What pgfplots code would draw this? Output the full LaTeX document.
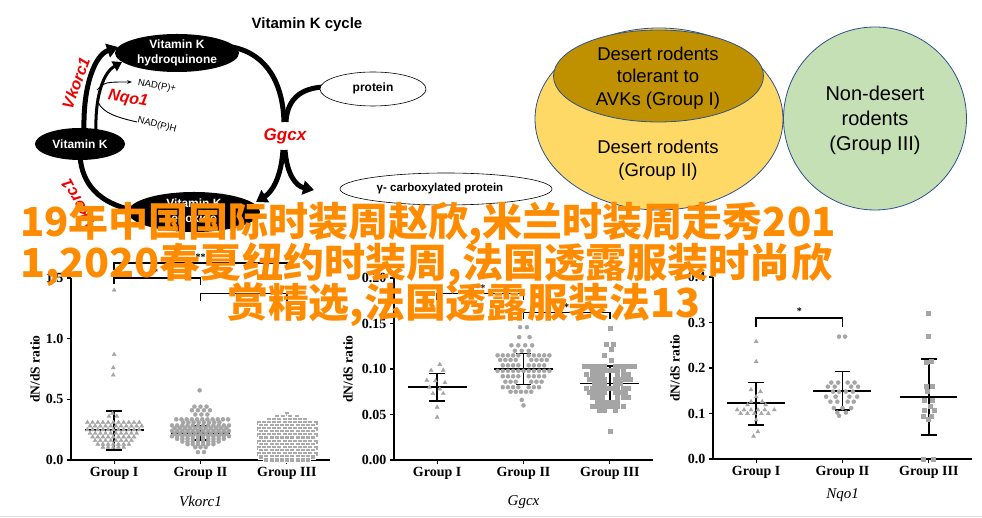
\documentclass[border=0pt]{standalone}
\usepackage{graphicx}
\usepackage{pgfplots}
\pgfplotsset{compat=1.18}
\usepackage{fontspec}
\setmainfont{Liberation Serif}
\newfontfamily\arial{Liberation Sans}
\newfontfamily\cjk{Noto Sans CJK SC}
\usetikzlibrary{arrows.meta}

\definecolor{orangetxt}{RGB}{255,140,0}
\definecolor{mk}{RGB}{165,165,165}
\definecolor{mkl}{RGB}{170,170,170}
\definecolor{vyellow}{RGB}{255,217,102}
\definecolor{vgold}{RGB}{191,144,0}
\definecolor{vgreen}{RGB}{197,224,180}
\definecolor{vline}{RGB}{47,82,143}
\definecolor{kred}{RGB}{238,0,0}

\newcommand\fs[2]{\fontsize{#1bp}{#2bp}\selectfont}

\pgfplotsset{
  dnds/.style={
    scale only axis, width=259bp, height=182bp,
    xmin=0.5, xmax=3.5, ymin=0,
    axis lines*=left,
    axis line style={black, line width=1.5bp},
    xtick={1,2,3}, xticklabels={Group I,Group II,Group III},
    tick align=outside, major tick length=4bp,
    every tick/.style={black, line width=1.2bp},
    tick label style={font=\bfseries\fs{14}{14}},
    /pgf/number format/assume math mode=true,
    ylabel={dN/dS ratio},
    ylabel style={font=\bfseries\fs{13.5}{14}, anchor=center},
    xlabel style={font=\itshape\fs{15}{15}, anchor=center},
    clip=false,
  },
  med/.style={black, line width=1.6bp, forget plot},
  tri/.style={only marks, mark=triangle*, mark size=2.3bp, color=mk},
  dot/.style={only marks, mark=*, mark size=2bp, color=mk},
  sqr/.style={only marks, mark=square*, mark size=2bp, color=mk},
}

\begin{document}
\begin{tikzpicture}
\fill[white] (0bp,0bp) rectangle (982bp,518bp);
\path[use as bounding box] (0bp,0bp) rectangle (982bp,518bp);
\draw[black!12, line width=0.8bp] (0bp,1.5bp) -- (982bp,1.5bp);

% ---- Vitamin K cycle diagram (pixel coordinates, y down)
\begin{scope}[shift={(0bp,518bp)}, x=1bp, y=-1bp]
  \draw[line width=5bp, -{Triangle[length=11bp,width=14bp]}] (84,130) .. controls (83,85) and (95,55) .. (118,47);
  \draw[line width=3bp, -{Triangle[length=9bp,width=11bp]}] (96,130) .. controls (95,95) and (104,72) .. (122,62);
  \draw[line width=0.9bp, -{Stealth[length=5bp]}] (97,90) .. controls (105,82) .. (132,82);
  \draw[line width=0.9bp] (137,122) .. controls (110,116) and (99,110) .. (97,98);
  \draw[line width=5bp] (232,47) .. controls (268,54) and (283,85) .. (284,122);
  \draw[line width=5bp] (324,87) .. controls (300,88) and (287,100) .. (286,122);
  \draw[line width=5bp, -{Triangle[length=11bp,width=14bp]}] (285,150) .. controls (287,175) and (296,186) .. (314,190);
  \draw[line width=5bp, -{Triangle[length=11bp,width=14bp]}] (283,150) .. controls (281,178) and (272,192) .. (256,202);
  \draw[line width=5bp] (80,156) .. controls (82,185) and (100,203) .. (132,210);

  \fill[black] (177,53) ellipse (62 and 19);
  \node[text=white, font=\arial\bfseries\fs{12}{15}, align=center] at (177,53) {Vitamin K\\hydroquinone};
  \fill[black] (80,144) ellipse (45 and 16);
  \node[text=white, font=\arial\bfseries\fs{12}{15}] at (80,144) {Vitamin K};
  \fill[black] (194,212) ellipse (66 and 20);
  \node[text=white, font=\arial\bfseries\fs{12}{15}, align=center] at (194,212) {Vitamin K\\epoxide};
  \draw[line width=0.6bp, fill=white] (373,89) ellipse (53 and 17);
  \node[font=\arial\bfseries\fs{12}{14}] at (373,88) {protein};
  \draw[line width=0.6bp, fill=white] (446,189) ellipse (106 and 16);
  \node[font=\arial\bfseries\fs{11.5}{14}] at (440,189) {γ- carboxylated protein};

  \node[font=\arial\bfseries\fs{15}{15}] at (307,25) {Vitamin K cycle};
  \node[text=kred, font=\arial\bfseries\itshape\fs{16}{16}, rotate=70] at (76,83) {Vkorc1};
  \node[text=kred, font=\arial\bfseries\itshape\fs{16}{16}, rotate=-10] at (128,99) {Nqo1};
  \node[text=kred, font=\arial\bfseries\itshape\fs{17}{17}] at (285,136) {Ggcx};
  \node[text=kred, font=\arial\bfseries\itshape\fs{16}{16}, rotate=119] at (78,204) {Vkorc1};
  \node[font=\arial\fs{9.5}{10}, rotate=-10] at (157,86) {NAD(P)+};
  \node[font=\arial\fs{9.5}{10}, rotate=-15] at (157,125) {NAD(P)H};

  % ---- groups diagram
  \draw[vline, line width=0.8bp, fill=vyellow] (659,119) ellipse (124 and 91);
  \draw[vline, line width=0.8bp, fill=vgold] (658.5,76) ellipse (105 and 46);
  \draw[vline, line width=0.8bp, fill=vgreen] (875,118.5) circle (91.5);
  \node[font=\arial\fs{18.5}{22.5}, align=center] at (658,78) {Desert rodents\\tolerant to\\AVKs (Group I)};
  \node[font=\arial\fs{18.5}{23.5}, align=center] at (658,160) {Desert rodents\\(Group II)};
  \node[font=\arial\fs{20}{25}, align=center] at (875,120) {Non-desert\\rodents\\(Group III)};
\end{scope}

% ---- Vkorc1
\begin{axis}[dnds, at={(71bp,58bp)}, anchor=south west,
  ymax=1.5, ytick={0,0.5,1,1.5},
  yticklabel style={/pgf/number format/.cd, fixed, fixed zerofill, precision=1},
  ylabel style={at={(axis description cs:-0.139,0.5)}},
  xlabel={Vkorc1}, xlabel style={at={(axis description cs:0.5,-0.23)}}]
\addplot[tri] coordinates {
 (1.0,1.40) (1.0,0.87) (0.99,0.76) (0.99,0.70) (0.98,0.385) (0.94,0.36) (1.03,0.36)
 (0.69,0.31) (0.75,0.31) (0.81,0.31) (0.87,0.31) (0.93,0.31) (0.99,0.31) (1.05,0.31) (1.11,0.31) (1.17,0.31) (1.23,0.31) (1.29,0.31)
 (0.72,0.28) (0.78,0.28) (0.84,0.28) (0.90,0.28) (0.96,0.28) (1.02,0.28) (1.08,0.28) (1.14,0.28) (1.20,0.28) (1.26,0.28) (1.32,0.28)
 (0.69,0.25) (0.75,0.25) (0.81,0.25) (0.87,0.25) (0.93,0.25) (0.99,0.25) (1.05,0.25) (1.11,0.25) (1.17,0.25) (1.23,0.25) (1.29,0.25)
 (0.72,0.22) (0.78,0.22) (0.84,0.22) (0.90,0.22) (0.96,0.22) (1.02,0.22) (1.08,0.22) (1.14,0.22) (1.20,0.22) (1.26,0.22)
 (0.75,0.19) (0.81,0.19) (0.87,0.19) (0.93,0.19) (0.99,0.19) (1.05,0.19) (1.11,0.19) (1.17,0.19) (1.23,0.19)
 (0.78,0.16) (0.84,0.16) (0.90,0.16) (0.96,0.16) (1.02,0.16) (1.08,0.16) (1.14,0.16) (1.20,0.16)
 (0.81,0.13) (0.87,0.13) (0.93,0.13) (0.99,0.13) (1.05,0.13) (1.11,0.13) (1.17,0.13)
 (0.87,0.105) (0.93,0.105) (0.99,0.105) (1.05,0.105) (1.11,0.105)
};
\addplot[dot] coordinates {
 (1.99,0.574) (1.93,0.44) (2.00,0.44) (2.07,0.44) (1.90,0.41) (1.97,0.41) (2.04,0.41) (2.11,0.41)
 (1.94,0.375) (2.01,0.375) (2.08,0.375)
 (1.72,0.335) (1.78,0.335) (1.84,0.335) (1.90,0.335) (1.96,0.335) (2.02,0.335) (2.08,0.335) (2.14,0.335) (2.20,0.335) (2.26,0.335) (2.32,0.335)
 (1.80,0.31) (1.86,0.31) (1.92,0.31) (1.98,0.31) (2.04,0.31) (2.10,0.31) (2.16,0.31) (2.22,0.31)
 (1.67,0.285) (1.73,0.285) (1.79,0.285) (1.85,0.285) (1.91,0.285) (1.97,0.285) (2.03,0.285) (2.09,0.285) (2.15,0.285) (2.21,0.285) (2.27,0.285) (2.33,0.285)
 (1.70,0.262) (1.76,0.262) (1.82,0.262) (1.88,0.262) (1.94,0.262) (2.00,0.262) (2.06,0.262) (2.12,0.262) (2.18,0.262) (2.24,0.262) (2.30,0.262)
 (1.67,0.24) (1.73,0.24) (1.79,0.24) (1.85,0.24) (1.91,0.24) (1.97,0.24) (2.03,0.24) (2.09,0.24) (2.15,0.24) (2.21,0.24) (2.27,0.24) (2.33,0.24)
 (1.70,0.218) (1.76,0.218) (1.82,0.218) (1.88,0.218) (1.94,0.218) (2.00,0.218) (2.06,0.218) (2.12,0.218) (2.18,0.218) (2.24,0.218) (2.30,0.218)
 (1.67,0.196) (1.73,0.196) (1.79,0.196) (1.85,0.196) (1.91,0.196) (1.97,0.196) (2.03,0.196) (2.09,0.196) (2.15,0.196) (2.21,0.196) (2.27,0.196) (2.33,0.196)
 (1.73,0.174) (1.79,0.174) (1.85,0.174) (1.91,0.174) (1.97,0.174) (2.03,0.174) (2.09,0.174) (2.15,0.174) (2.21,0.174) (2.27,0.174)
 (1.79,0.152) (1.85,0.152) (1.91,0.152) (1.97,0.152) (2.03,0.152) (2.09,0.152) (2.15,0.152) (2.21,0.152)
 (1.85,0.13) (1.91,0.13) (1.97,0.13) (2.03,0.13) (2.09,0.13) (2.15,0.13)
 (1.94,0.105) (2.00,0.105) (2.06,0.105) (1.97,0.065) (2.04,0.065)
};
\addplot[sqr, color=mkl, mark size=2.5bp, mark options={draw=white, line width=0.35bp}] coordinates {
 (3.00,0.385) (2.88,0.355) (2.95,0.355) (3.03,0.355) (3.11,0.355)
 (2.79,0.33) (2.85,0.33) (2.91,0.33) (2.97,0.33) (3.03,0.33) (3.09,0.33) (3.15,0.33) (3.21,0.33)
 (2.67,0.305) (2.73,0.305) (2.79,0.305) (2.85,0.305) (2.91,0.305) (2.97,0.305) (3.03,0.305) (3.09,0.305) (3.15,0.305) (3.21,0.305) (3.27,0.305) (3.33,0.305)
 (2.70,0.28) (2.76,0.28) (2.82,0.28) (2.88,0.28) (2.94,0.28) (3.00,0.28) (3.06,0.28) (3.12,0.28) (3.18,0.28) (3.24,0.28) (3.30,0.28)
 (2.67,0.255) (2.73,0.255) (2.79,0.255) (2.85,0.255) (2.91,0.255) (2.97,0.255) (3.03,0.255) (3.09,0.255) (3.15,0.255) (3.21,0.255) (3.27,0.255) (3.33,0.255)
 (2.70,0.23) (2.76,0.23) (2.82,0.23) (2.88,0.23) (2.94,0.23) (3.00,0.23) (3.06,0.23) (3.12,0.23) (3.18,0.23) (3.24,0.23) (3.30,0.23)
 (2.67,0.205) (2.73,0.205) (2.79,0.205) (2.85,0.205) (2.91,0.205) (2.97,0.205) (3.03,0.205) (3.09,0.205) (3.15,0.205) (3.21,0.205) (3.27,0.205) (3.33,0.205)
 (2.70,0.18) (2.76,0.18) (2.82,0.18) (2.88,0.18) (2.94,0.18) (3.00,0.18) (3.06,0.18) (3.12,0.18) (3.18,0.18) (3.24,0.18) (3.30,0.18)
 (2.67,0.155) (2.73,0.155) (2.79,0.155) (2.85,0.155) (2.91,0.155) (2.97,0.155) (3.03,0.155) (3.09,0.155) (3.15,0.155) (3.21,0.155) (3.27,0.155) (3.33,0.155)
 (2.70,0.13) (2.76,0.13) (2.82,0.13) (2.88,0.13) (2.94,0.13) (3.00,0.13) (3.06,0.13) (3.12,0.13) (3.18,0.13) (3.24,0.13) (3.30,0.13)
 (2.67,0.105) (2.73,0.105) (2.79,0.105) (2.85,0.105) (2.91,0.105) (2.97,0.105) (3.03,0.105) (3.09,0.105) (3.15,0.105) (3.21,0.105) (3.27,0.105) (3.33,0.105)
 (2.70,0.08) (2.76,0.08) (2.82,0.08) (2.88,0.08) (2.94,0.08) (3.00,0.08) (3.06,0.08) (3.12,0.08) (3.18,0.08) (3.24,0.08) (3.30,0.08)
 (2.67,0.055) (2.73,0.055) (2.79,0.055) (2.85,0.055) (2.91,0.055) (2.97,0.055) (3.03,0.055) (3.09,0.055) (3.15,0.055) (3.21,0.055) (3.27,0.055) (3.33,0.055)
 (2.70,0.03) (2.76,0.03) (2.82,0.03) (2.88,0.03) (2.94,0.03) (3.00,0.03) (3.06,0.03) (3.12,0.03) (3.18,0.03) (3.24,0.03) (3.30,0.03)
 (2.76,0.006) (2.82,0.006) (2.88,0.006) (2.94,0.006) (3.00,0.006) (3.06,0.006) (3.12,0.006) (3.18,0.006) (3.24,0.006)
};
% medians and error bars
\addplot[med] coordinates {(0.66,0.245) (1.34,0.245)};
\addplot[med] coordinates {(0.91,0.405) (1.09,0.405)};
\addplot[med] coordinates {(1,0.405) (1,0.082)};
\addplot[med] coordinates {(0.91,0.082) (1.09,0.082)};
\addplot[med] coordinates {(1.66,0.222) (2.34,0.222)};
\addplot[med] coordinates {(1.91,0.278) (2.09,0.278)};
\addplot[med] coordinates {(2,0.278) (2,0.165)};
\addplot[med] coordinates {(1.91,0.165) (2.09,0.165)};
\addplot[med] coordinates {(2.66,0.165) (3.34,0.165)};
\addplot[med] coordinates {(2.91,0.24) (3.09,0.24)};
\addplot[med] coordinates {(3,0.24) (3,0.095)};
\addplot[med] coordinates {(2.91,0.095) (3.09,0.095)};
% significance
\addplot[black, line width=1.4bp] coordinates {(1,1.57) (1,1.623) (3,1.623) (3,1.58)};
\addplot[black, line width=1.4bp] coordinates {(1,1.45) (1,1.50) (2,1.50) (2,1.44)};
\addplot[black, line width=1.4bp] coordinates {(2,1.31) (2,1.37) (3,1.37) (3,1.31)};
\node[font=\bfseries\fs{10}{10}] at (axis cs:2,1.67) {**};
\node[font=\bfseries\fs{10}{10}] at (axis cs:1.48,1.545) {*};
\node[font=\bfseries\fs{10}{10}] at (axis cs:2.43,1.415) {*};
\end{axis}

% ---- Ggcx
\begin{axis}[dnds, at={(394bp,58bp)}, anchor=south west,
  ymax=0.2, ytick={0,0.05,0.1,0.15,0.2},
  yticklabel style={/pgf/number format/.cd, fixed, fixed zerofill, precision=2},
  ylabel style={at={(axis description cs:-0.178,0.5)}},
  xlabel={Ggcx}, xlabel style={at={(axis description cs:0.5,-0.23)}}]
\addplot[tri] coordinates {
 (1.03,0.105) (0.93,0.0985) (1.07,0.0985) (0.88,0.0876) (0.98,0.087) (1.09,0.085)
 (0.91,0.080) (1.03,0.078) (0.95,0.073) (1.07,0.073) (1.00,0.058) (1.00,0.047)
};
\addplot[dot] coordinates {
 (1.96,0.146) (2.04,0.146) (1.95,0.135) (2.07,0.135)
 (1.86,0.126) (1.94,0.126) (2.02,0.126) (2.10,0.126) (1.90,0.12) (1.98,0.12) (2.06,0.12)
 (1.70,0.115) (1.76,0.115) (1.82,0.115) (1.88,0.115) (1.94,0.115) (2.06,0.115) (2.12,0.115) (2.18,0.115) (2.24,0.115) (2.30,0.115)
 (1.73,0.11) (1.79,0.11) (1.85,0.11) (1.91,0.11) (2.09,0.11) (2.15,0.11) (2.21,0.11) (2.27,0.11)
 (1.76,0.104) (1.82,0.104) (1.88,0.104) (1.94,0.104) (2.06,0.104) (2.12,0.104) (2.18,0.104) (2.24,0.104)
 (1.70,0.098) (1.76,0.098) (1.82,0.098) (1.88,0.098) (1.94,0.098) (2.00,0.098) (2.06,0.098) (2.12,0.098) (2.18,0.098) (2.24,0.098) (2.30,0.098)
 (1.76,0.092) (1.82,0.092) (1.88,0.092) (1.94,0.092) (2.06,0.092) (2.12,0.092) (2.18,0.092) (2.24,0.092)
 (1.79,0.086) (1.85,0.086) (1.91,0.086) (2.09,0.086) (2.15,0.086) (2.21,0.086)
 (1.76,0.08) (1.82,0.08) (1.88,0.08) (1.94,0.08) (2.06,0.08) (2.12,0.08) (2.18,0.08)
 (1.85,0.075) (1.91,0.075) (1.97,0.075) (2.03,0.075) (2.09,0.075)
 (1.98,0.066) (2.00,0.06)
};
\addplot[sqr] coordinates {
 (3.00,0.145) (2.96,0.127) (3.04,0.127) (3.02,0.122) (2.94,0.115) (3.01,0.11)
 (2.70,0.103) (2.76,0.103) (2.82,0.103) (2.88,0.103) (2.94,0.103) (3.06,0.103) (3.12,0.103) (3.18,0.103) (3.24,0.103) (3.28,0.103)
 (2.79,0.099) (2.85,0.099) (2.91,0.099) (2.97,0.099) (3.03,0.099) (3.09,0.099) (3.15,0.099)
 (2.73,0.094) (2.79,0.094) (2.85,0.094) (2.91,0.094) (3.09,0.094) (3.15,0.094) (3.21,0.094)
 (2.76,0.089) (2.82,0.089) (2.88,0.089) (2.94,0.089) (3.06,0.089) (3.12,0.089) (3.18,0.089) (3.24,0.089)
 (2.82,0.084) (2.88,0.084) (2.94,0.084) (3.06,0.084) (3.12,0.084)
 (2.73,0.079) (2.79,0.079) (2.85,0.079) (2.91,0.079) (2.97,0.079) (3.03,0.079) (3.09,0.079) (3.15,0.079) (3.21,0.079)
 (2.76,0.074) (2.82,0.074) (2.88,0.074) (2.94,0.074) (3.06,0.074) (3.12,0.074) (3.18,0.074)
 (2.79,0.069) (2.85,0.069) (2.91,0.069) (3.09,0.069) (3.15,0.069) (3.21,0.069)
 (2.85,0.064) (2.91,0.064) (2.97,0.064) (3.03,0.064) (3.09,0.064)
 (2.79,0.059) (2.85,0.059) (2.91,0.059) (2.97,0.059) (3.03,0.059) (3.09,0.059) (3.15,0.059)
 (2.88,0.055) (2.94,0.055) (3.06,0.055) (3.00,0.032)
};
\addplot[med] coordinates {(0.66,0.0805) (1.34,0.0805)};
\addplot[med] coordinates {(0.91,0.095) (1.09,0.095)};
\addplot[med] coordinates {(1,0.095) (1,0.065)};
\addplot[med] coordinates {(0.91,0.065) (1.09,0.065)};
\addplot[med] coordinates {(1.66,0.0998) (2.34,0.0998)};
\addplot[med] coordinates {(1.91,0.117) (2.09,0.117)};
\addplot[med] coordinates {(2,0.117) (2,0.083)};
\addplot[med] coordinates {(1.91,0.083) (2.09,0.083)};
\addplot[med] coordinates {(2.66,0.084) (3.34,0.084)};
\addplot[med] coordinates {(2.91,0.103) (3.09,0.103)};
\addplot[med] coordinates {(3,0.103) (3,0.0646)};
\addplot[med] coordinates {(2.91,0.0646) (3.09,0.0646)};
\addplot[black, line width=1.4bp] coordinates {(1,0.176) (1,0.183) (2,0.183) (2,0.176)};
\addplot[black, line width=1.4bp] coordinates {(2,0.155) (2,0.162) (3,0.162) (3,0.155)};
\node[font=\bfseries\fs{10}{10}] at (axis cs:1.5,0.1885) {**};
\node[font=\bfseries\fs{10}{10}] at (axis cs:2.5,0.1675) {*};
\end{axis}

% ---- Nqo1
\begin{axis}[dnds, at={(713bp,59bp)}, anchor=south west,
  ymax=0.4, ytick={0,0.1,0.2,0.3,0.4},
  yticklabel style={/pgf/number format/.cd, fixed, fixed zerofill, precision=1},
  ylabel style={at={(axis description cs:-0.147,0.5)}},
  xlabel={Nqo1}, xlabel style={at={(axis description cs:0.5,-0.198)}}]
\addplot[tri] coordinates {
 (1.00,0.258) (1.00,0.214) (0.94,0.152) (1.05,0.148) (1.00,0.137) (0.94,0.126) (1.07,0.126)
 (0.90,0.119) (1.11,0.119) (0.78,0.108) (0.86,0.108) (0.94,0.108) (1.02,0.108) (1.10,0.108) (1.21,0.108)
 (0.82,0.10) (0.90,0.10) (0.98,0.10) (1.06,0.10) (1.14,0.10) (1.00,0.086) (1.02,0.06) (0.97,0.05)
};
\addplot[dot] coordinates {
 (1.96,0.269) (2.03,0.269)
 (1.87,0.168) (1.95,0.168) (2.06,0.168) (2.14,0.168)
 (1.83,0.159) (1.91,0.159) (2.10,0.159) (2.18,0.159)
 (1.89,0.148) (1.96,0.148) (2.04,0.148) (2.12,0.148)
 (1.81,0.137) (1.92,0.137) (2.08,0.137) (2.17,0.137)
 (1.86,0.126) (1.94,0.126) (2.06,0.126) (2.13,0.126)
 (1.90,0.112) (2.00,0.112) (2.10,0.112) (1.94,0.102) (2.04,0.102) (1.96,0.095)
};
\addplot[sqr] coordinates {
 (2.99,0.321) (2.99,0.269) (3.03,0.214) (2.97,0.212) (2.97,0.16) (3.04,0.16) (2.98,0.15)
 (3.04,0.13) (2.95,0.13) (3.02,0.117) (2.95,0.108) (3.06,0.108) (2.93,0.095) (3.03,0.095)
 (2.99,0.088) (2.94,0.0) (3.05,0.0)
};
\addplot[med] coordinates {(0.66,0.1226) (1.33,0.1226)};
\addplot[med] coordinates {(0.91,0.168) (1.09,0.168)};
\addplot[med] coordinates {(1,0.168) (1,0.075)};
\addplot[med] coordinates {(0.91,0.075) (1.09,0.075)};
\addplot[med] coordinates {(1.66,0.150) (2.33,0.150)};
\addplot[med] coordinates {(1.91,0.192) (2.09,0.192)};
\addplot[med] coordinates {(2,0.192) (2,0.108)};
\addplot[med] coordinates {(1.91,0.108) (2.09,0.108)};
\addplot[med] coordinates {(2.67,0.1365) (3.33,0.1365)};
\addplot[med] coordinates {(2.91,0.22) (3.09,0.22)};
\addplot[med] coordinates {(3,0.22) (3,0.0526)};
\addplot[med] coordinates {(2.91,0.0526) (3.09,0.0526)};
\addplot[black, line width=1.4bp] coordinates {(1,0.29) (1,0.31) (2,0.31) (2,0.29)};
\node[font=\bfseries\fs{10}{10}] at (axis cs:1.5,0.325) {*};
\end{axis}

% ---- overlay text
\begin{scope}[shift={(0bp,518bp)}, x=1bp, y=-1bp]
  \node[anchor=base west, inner sep=0pt, text=orangetxt, font=\cjk\bfseries\fs{40}{40}] at (20,237) {19年中国国际时装周赵欣,米兰时装周走秀201};
  \node[anchor=base west, inner sep=0pt, text=orangetxt, font=\cjk\bfseries\fs{40}{40}] at (20,278) {\scalebox{1.028}[1]{1,2020春夏纽约时装周,法国透露服装时尚欣}};
  \node[anchor=base west, inner sep=0pt, text=orangetxt, font=\cjk\bfseries\fs{40}{40}] at (227,318) {\scalebox{1.022}[1]{赏精选,法国透露服装法13}};
\end{scope}
\end{tikzpicture}
\end{document}
